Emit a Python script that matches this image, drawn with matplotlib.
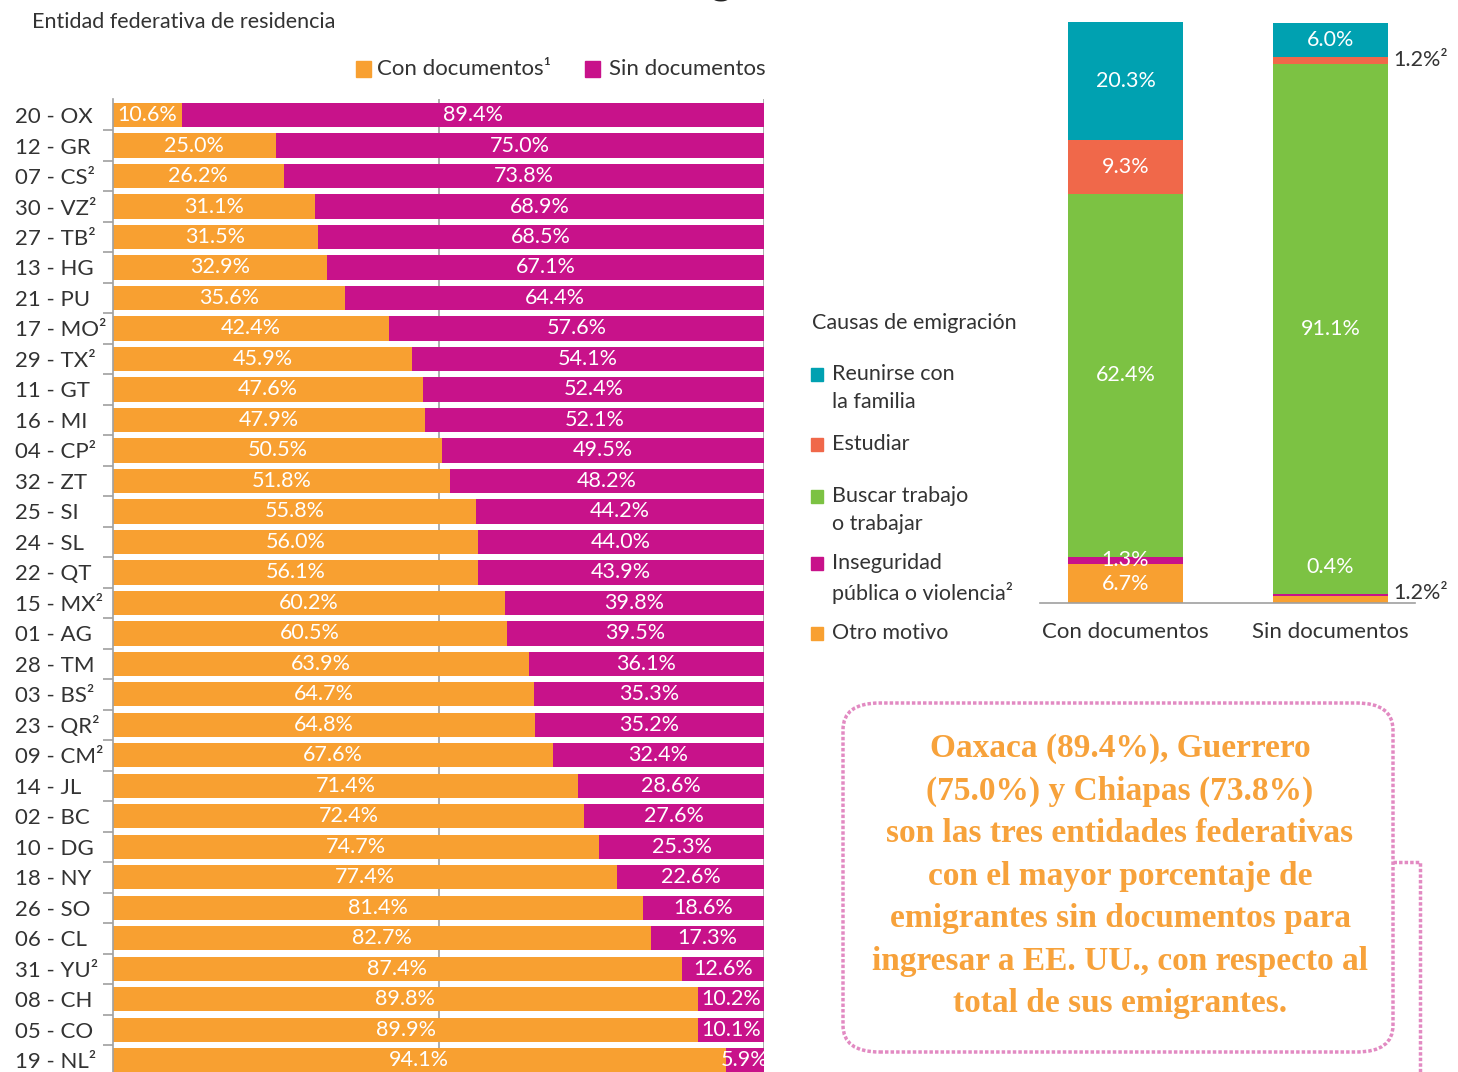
import matplotlib
matplotlib.use("Agg")
import matplotlib.pyplot as plt
from matplotlib.patches import FancyBboxPatch, Rectangle
from matplotlib.lines import Line2D

W, H = 1458, 1072

# Left chart: share of emigrants with / without documents by state
states = ["20 - OX", "12 - GR", "07 - CS²", "30 - VZ²", "27 - TB²", "13 - HG", "21 - PU",
          "17 - MO²", "29 - TX²", "11 - GT", "16 - MI", "04 - CP²", "32 - ZT", "25 - SI",
          "24 - SL", "22 - QT", "15 - MX²", "01 - AG", "28 - TM", "03 - BS²", "23 - QR²",
          "09 - CM²", "14 - JL", "02 - BC", "10 - DG", "18 - NY", "26 - SO", "06 - CL",
          "31 - YU²", "08 - CH", "05 - CO", "19 - NL²"]
con_docs = [10.6, 25.0, 26.2, 31.1, 31.5, 32.9, 35.6, 42.4, 45.9, 47.6, 47.9, 50.5, 51.8,
            55.8, 56.0, 56.1, 60.2, 60.5, 63.9, 64.7, 64.8, 67.6, 71.4, 72.4, 74.7, 77.4,
            81.4, 82.7, 87.4, 89.8, 89.9, 94.1]
sin_docs = [89.4, 75.0, 73.8, 68.9, 68.5, 67.1, 64.4, 57.6, 54.1, 52.4, 52.1, 49.5, 48.2,
            44.2, 44.0, 43.9, 39.8, 39.5, 36.1, 35.3, 35.2, 32.4, 28.6, 27.6, 25.3, 22.6,
            18.6, 17.3, 12.6, 10.2, 10.1, 5.9]

# Right chart: causes of emigration by document status
groups = ["Con documentos", "Sin documentos"]
causes = ["Otro motivo", "Inseguridad\npública o violencia²", "Buscar trabajo\no trabajar",
          "Estudiar", "Reunirse con\nla familia"]
cause_con = [6.7, 1.3, 62.4, 9.3, 20.3]
cause_sin = [1.2, 0.4, 91.1, 1.2, 6.0]

ORANGE = "#F8A031"
MAGENTA = "#C8128A"
cause_colors = [ORANGE, MAGENTA, "#7CC243", "#F0684A", "#00A1B1"]
TXT = "#333333"
SANS = ["Lato", "DejaVu Sans"]

plt.rcParams["font.family"] = SANS


def fx(px):
    return px / W


def fy(py):
    return 1 - py / H


fig = plt.figure(figsize=(W / 100, H / 100), dpi=100)
fig.patch.set_facecolor("white")

# ---- left stacked bars
ax = fig.add_axes([fx(113), 0, fx(764) - fx(113), fy(99)])
n = len(states)
ypos = list(range(n))
ax.barh(ypos, con_docs, height=0.79, color=ORANGE, zorder=2)
ax.barh(ypos, sin_docs, left=con_docs, height=0.79, color=MAGENTA, zorder=2)
for i in range(n):
    ax.text(con_docs[i] / 2, i, f"{con_docs[i]:.1f}%", color="white", fontsize=15.5,
            ha="center", va="center", zorder=3)
    ax.text(con_docs[i] + sin_docs[i] / 2, i, f"{sin_docs[i]:.1f}%", color="white",
            fontsize=15.5, ha="center", va="center", zorder=3)
ax.set_xlim(0, 100)
ax.set_ylim(31.38, -0.525)
for gx in (50, 100):
    ax.axvline(gx, color="#A0A0A0", lw=1.2, zorder=1)
ax.set_yticks(ypos)
ax.set_yticklabels(states, fontsize=16, color=TXT, ha="left")
ax.set_yticks([i + 0.5 for i in range(n - 1)], minor=True)
# labels are left-aligned at x=15px, i.e. 98px left of the axis
ax.tick_params(axis="y", which="major", length=0, pad=98 * 0.72)
ax.tick_params(axis="y", which="minor", length=7, color="#A0A0A0", width=1.2)
ax.set_xticks([])
for s in ("top", "right", "bottom"):
    ax.spines[s].set_visible(False)
ax.spines["left"].set_color("#A0A0A0")
ax.spines["left"].set_linewidth(1.2)

fig.text(fx(32), fy(22), "Entidad federativa de residencia", fontsize=15.5, color=TXT,
         ha="left", va="center")
fig.text(fx(705), fy(-18), "Causas de emigración, 2018", fontsize=30, fontweight="bold",
         color="#222222", ha="center", va="center")

# legend of left chart
fig.patches.append(Rectangle((fx(356), fy(77)), fx(15), 16 / H, color=ORANGE,
                             transform=fig.transFigure, figure=fig))
fig.text(fx(377), fy(69), "Con documentos¹", fontsize=16, color=TXT, ha="left", va="center")
fig.patches.append(Rectangle((fx(585), fy(77)), fx(15), 16 / H, color=MAGENTA,
                             transform=fig.transFigure, figure=fig))
fig.text(fx(609), fy(69), "Sin documentos", fontsize=16, color=TXT, ha="left", va="center")

# ---- right stacked columns
ax2 = fig.add_axes([fx(1040), fy(603), fx(1415) - fx(1040), fy(22) - fy(603)])
bw = 0.561
for gi, vals in enumerate([cause_con, cause_sin]):
    bottom = 0
    for ci, v in enumerate(vals):
        ax2.bar(gi, v, bottom=bottom, width=bw, color=cause_colors[ci], zorder=2)
        lab = f"{v:.1f}%"
        mid = bottom + v / 2
        if gi == 1 and ci in (0, 3):
            ax2.annotate(lab + "²", (gi + bw / 2, mid), xytext=(4, 1 if ci == 3 else 5),
                         textcoords="offset points", ha="left", va="center",
                         fontsize=15.5, color=TXT)
        elif gi == 1 and ci == 1:
            ax2.annotate(lab, (gi, mid), xytext=(0, 20), textcoords="offset points",
                         ha="center", va="center", fontsize=15.5, color="white")
        else:
            ax2.text(gi, mid, lab, ha="center", va="center", fontsize=15.5, color="white")
        bottom += v
ax2.set_xlim(-0.417, 1.412)
ax2.set_ylim(0, 100)
ax2.set_yticks([])
ax2.set_xticks([0, 1])
ax2.set_xticklabels(groups, fontsize=16, color=TXT)
ax2.tick_params(axis="x", length=0, pad=14)
for s in ("top", "right", "left"):
    ax2.spines[s].set_visible(False)
ax2.spines["bottom"].set_color("#A0A0A0")
ax2.spines["bottom"].set_linewidth(1.2)

# legend for causes
fig.text(fx(812), fy(323), "Causas de emigración", fontsize=15.5, color=TXT, ha="left",
         va="center")
legend_rows = [374, 444, 496, 563, 633]
for name, col, py in zip(causes[::-1], cause_colors[::-1], legend_rows):
    fig.patches.append(Rectangle((fx(811), fy(py + 7)), fx(12), 13 / H, color=col,
                                 transform=fig.transFigure, figure=fig))
    fig.text(fx(832), fy(py - 10), name, fontsize=15.5, color=TXT, ha="left", va="top",
             linespacing=1.5)

# ---- callout box
PINK = "#E28AC2"
box = FancyBboxPatch((fx(843), fy(1052)), fx(1393) - fx(843), fy(703) - fy(1052),
                     boxstyle="round,pad=0,rounding_size=0.025", transform=fig.transFigure,
                     fill=False, edgecolor=PINK, lw=2.5, linestyle=(0, (1, 0.6)), figure=fig)
fig.patches.append(box)
fig.lines.append(Line2D([fx(1393), fx(1420), fx(1420)], [fy(862), fy(862), fy(1075)],
                        transform=fig.transFigure, color=PINK, lw=2.5,
                        linestyle=(0, (1, 0.6)), figure=fig))
callout = ("Oaxaca (89.4%), Guerrero\n(75.0%) y Chiapas (73.8%)\n"
           "son las tres entidades federativas\ncon el mayor porcentaje de\n"
           "emigrantes sin documentos para\ningresar a EE. UU., con respecto al\n"
           "total de sus emigrantes.")
fig.text(fx(1120), fy(876), callout, fontsize=24, fontweight="bold", color="#F7A23B",
         family=["Liberation Serif", "DejaVu Serif"], ha="center", va="center",
         linespacing=1.48)

fig.savefig("out.png", dpi=100)
